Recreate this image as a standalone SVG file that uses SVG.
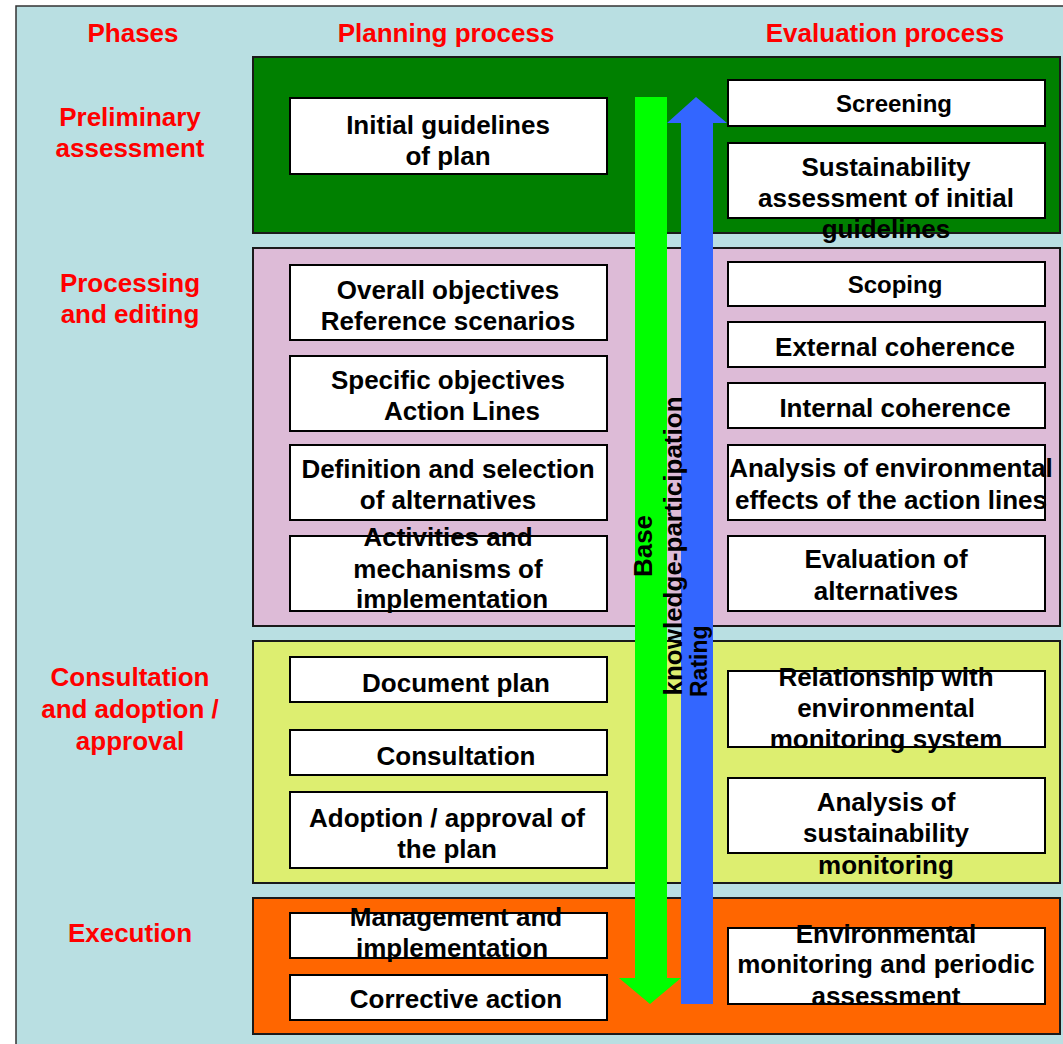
<svg xmlns="http://www.w3.org/2000/svg" width="1063" height="1044" viewBox="0 0 1063 1044">
  <style>
    .bg { fill: #B9DFE2; stroke: #333333; stroke-width: 1.5; }
    .phase { stroke: #1a1a1a; stroke-width: 2; }
    .box { fill: #FFFFFF; stroke: #000000; stroke-width: 2; }
    .lbl { font-family: "Liberation Sans", Arial, sans-serif; font-weight: bold; font-size: 26px; fill: #000000; text-anchor: middle; }
    .sm { font-size: 24px; }
    .head { font-family: "Liberation Sans", Arial, sans-serif; font-weight: bold; font-size: 26px; fill: #FF0000; text-anchor: middle; }
  </style>

  <!-- background panel -->
  <rect class="bg" x="16" y="6" width="1060" height="1050"/>

  <!-- column headers -->
  <g id="headers">
    <text class="head" x="133" y="42">Phases</text>
    <text class="head" x="446" y="42">Planning process</text>
    <text class="head" x="885" y="42">Evaluation process</text>
  </g>

  <!-- phase labels -->
  <g id="phase-labels">
    <text class="head" x="130" y="126">Preliminary</text>
    <text class="head" x="130" y="157">assessment</text>
    <text class="head" x="130" y="292">Processing</text>
    <text class="head" x="130" y="323">and editing</text>
    <text class="head" x="130" y="686">Consultation</text>
    <text class="head" x="130" y="718">and adoption /</text>
    <text class="head" x="130" y="750">approval</text>
    <text class="head" x="130" y="942">Execution</text>
  </g>

  <!-- phase bands -->
  <g id="phase-bands">
    <rect id="band-preliminary" class="phase" x="253" y="57" width="807" height="176" fill="#008000"/>
    <rect id="band-processing" class="phase" x="253" y="248" width="807" height="378" fill="#DDBBD7"/>
    <rect id="band-consultation" class="phase" x="253" y="641" width="807" height="242" fill="#DDEE70"/>
    <rect id="band-execution" class="phase" x="253" y="898" width="807" height="136" fill="#FF6600"/>
  </g>

  <!-- planning process steps -->
  <g id="plan-initial-guidelines">
    <rect class="box" x="290" y="98" width="317" height="76"/>
    <text class="lbl" x="448" y="134">Initial guidelines</text>
    <text class="lbl" x="448" y="165">of plan</text>
  </g>
  <g id="plan-overall-objectives">
    <rect class="box" x="290" y="265" width="317" height="75"/>
    <text class="lbl" x="448" y="299">Overall objectives</text>
    <text class="lbl" x="448" y="330">Reference scenarios</text>
  </g>
  <g id="plan-specific-objectives">
    <rect class="box" x="290" y="356" width="317" height="75"/>
    <text class="lbl" x="448" y="389">Specific objectives</text>
    <text class="lbl" x="462" y="420">Action Lines</text>
  </g>
  <g id="plan-alternatives">
    <rect class="box" x="290" y="445" width="317" height="75"/>
    <text class="lbl" x="448" y="478">Definition and selection</text>
    <text class="lbl" x="448" y="509">of alternatives</text>
  </g>
  <g id="plan-activities">
    <rect class="box" x="290" y="536" width="317" height="75"/>
    <text class="lbl" x="448" y="546">Activities and</text>
    <text class="lbl" x="448" y="578">mechanisms of</text>
    <text class="lbl" x="452" y="608">implementation</text>
  </g>
  <g id="plan-document">
    <rect class="box" x="290" y="657" width="317" height="45"/>
    <text class="lbl" x="456" y="692">Document plan</text>
  </g>
  <g id="plan-consultation">
    <rect class="box" x="290" y="730" width="317" height="45"/>
    <text class="lbl" x="456" y="765">Consultation</text>
  </g>
  <g id="plan-adoption">
    <rect class="box" x="290" y="792" width="317" height="76"/>
    <text class="lbl" x="447" y="827">Adoption / approval of</text>
    <text class="lbl" x="447" y="858">the plan</text>
  </g>
  <g id="plan-management">
    <rect class="box" x="290" y="913" width="317" height="45"/>
    <text class="lbl" x="456" y="926">Management and</text>
    <text class="lbl" x="452" y="957">implementation</text>
  </g>
  <g id="plan-corrective">
    <rect class="box" x="290" y="975" width="317" height="45"/>
    <text class="lbl" x="456" y="1008">Corrective action</text>
  </g>

  <!-- evaluation process steps -->
  <g id="eval-screening">
    <rect class="box" x="728" y="80" width="317" height="46"/>
    <text class="lbl sm" x="894" y="112">Screening</text>
  </g>
  <g id="eval-sustainability">
    <rect class="box" x="728" y="143" width="317" height="75"/>
    <text class="lbl" x="886" y="176">Sustainability</text>
    <text class="lbl" x="886" y="207">assessment of initial</text>
    <text class="lbl" x="886" y="238">guidelines</text>
  </g>
  <g id="eval-scoping">
    <rect class="box" x="728" y="262" width="317" height="44"/>
    <text class="lbl sm" x="895" y="293">Scoping</text>
  </g>
  <g id="eval-external">
    <rect class="box" x="728" y="322" width="317" height="45"/>
    <text class="lbl" x="895" y="356">External coherence</text>
  </g>
  <g id="eval-internal">
    <rect class="box" x="728" y="383" width="317" height="45"/>
    <text class="lbl" x="895" y="417">Internal coherence</text>
  </g>
  <g id="eval-effects">
    <rect class="box" x="728" y="445" width="317" height="75"/>
    <text class="lbl" x="891" y="477">Analysis of environmental</text>
    <text class="lbl" x="891" y="509">effects of the action lines</text>
  </g>
  <g id="eval-alternatives">
    <rect class="box" x="728" y="536" width="317" height="75"/>
    <text class="lbl" x="886" y="568">Evaluation of</text>
    <text class="lbl" x="886" y="600">alternatives</text>
  </g>
  <g id="eval-relationship">
    <rect class="box" x="728" y="671" width="317" height="76"/>
    <text class="lbl" x="886" y="686">Relationship with</text>
    <text class="lbl" x="886" y="717">environmental</text>
    <text class="lbl" x="886" y="748">monitoring system</text>
  </g>
  <g id="eval-monitoring">
    <rect class="box" x="728" y="778" width="317" height="75"/>
    <text class="lbl" x="886" y="811">Analysis of</text>
    <text class="lbl" x="886" y="842">sustainability</text>
    <text class="lbl" x="886" y="874">monitoring</text>
  </g>
  <g id="eval-periodic">
    <rect class="box" x="728" y="928" width="317" height="76"/>
    <text class="lbl" x="886" y="943">Environmental</text>
    <text class="lbl" x="886" y="973">monitoring and periodic</text>
    <text class="lbl" x="886" y="1005">assessment</text>
  </g>

  <!-- vertical flows between the two processes -->
  <g id="connectors">
    <polygon fill="#00FF00" points="635,97 667,97 667,978 681,978 650,1004 619,978 635,978"/>
    <polygon fill="#3366FF" points="681,1004 713,1004 713,123 727,123 696,97 667,123 681,123"/>
    <text class="lbl" transform="translate(652,546) rotate(-90)">Base</text>
    <text class="lbl" transform="translate(682,546) rotate(-90)">knowledge-participation</text>
    <text class="lbl" style="text-anchor:start;font-size:23px" transform="translate(707,697) rotate(-90)">Rating</text>
  </g>
</svg>
